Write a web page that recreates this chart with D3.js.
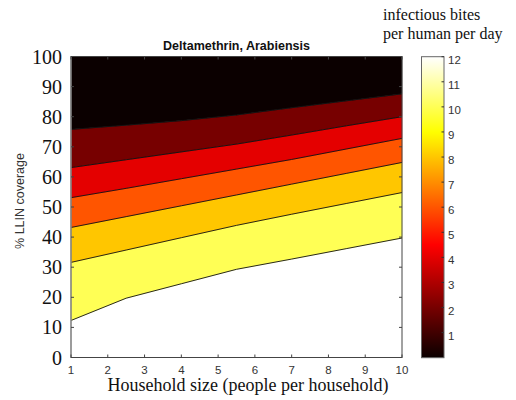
<!DOCTYPE html>
<html>
<head>
<meta charset="utf-8">
<script src="https://cdn.jsdelivr.net/npm/d3@7"></script>
<style>
  body { margin: 0; background: #fff; }
  svg { display: block; }
</style>
</head>
<body>
<svg id="chart"></svg>
<script>
/* Data: coverage (%) of each contour line at each household size */
const householdSize = [1, 2.5, 4, 5.5, 7, 8.5, 10];
const contour2  = [75.8, 77.2, 78.7, 80.6, 83.0, 85.3, 87.6];
const contour4  = [63.1, 65.7, 68.3, 70.9, 73.9, 77.0, 80.0];
const contour6  = [53.1, 56.2, 59.4, 62.6, 65.8, 69.3, 72.8];
const contour8  = [43.2, 46.8, 50.4, 54.0, 57.6, 61.2, 64.8];
const contour10 = [31.6, 35.7, 39.8, 43.9, 47.6, 51.2, 54.8];
const contour12 = [12.3, 19.7, 24.5, 29.3, 32.7, 36.2, 39.7];

const xTicks = [1, 2, 3, 4, 5, 6, 7, 8, 9, 10];
const yTicks = [0, 10, 20, 30, 40, 50, 60, 70, 80, 90, 100];
const cbTicks = [1, 2, 3, 4, 5, 6, 7, 8, 9, 10, 11, 12];

/* bands: [fill level, lower line, upper line] (null = axis edge) */
const bands = [
  { level: 12, lower: null,      upper: contour12 },
  { level: 10, lower: contour12, upper: contour10 },
  { level: 8,  lower: contour10, upper: contour8 },
  { level: 6,  lower: contour8,  upper: contour6 },
  { level: 4,  lower: contour6,  upper: contour4 },
  { level: 2,  lower: contour4,  upper: contour2 },
  { level: 0,  lower: contour2,  upper: null }
];
const lines = [contour2, contour4, contour6, contour8, contour10, contour12];

/* Chart dimensions */
const W = 516, H = 400;
const margin = { top: 56.5, left: 71 };
const width = 331, height = 301;

const svg = d3.select("#chart").attr("width", W).attr("height", H);
const g = svg.append("g").attr("transform", `translate(${margin.left},${margin.top})`);

const x = d3.scaleLinear().domain([1, 10]).range([0, width]);
const y = d3.scaleLinear().domain([0, 100]).range([height, 0]);

/* MATLAB "hot" colormap */
const hot = d3.scaleLinear()
    .domain([0, 4.5, 9, 12])
    .range(["#0b0000", "#ff0000", "#ffff00", "#ffffff"])
    .clamp(true);

/* Filled bands */
bands.forEach(b => {
  const area = d3.area()
      .x((d, i) => x(householdSize[i]))
      .y0((d, i) => y(b.lower ? b.lower[i] : 0))
      .y1((d, i) => y(b.upper ? b.upper[i] : 100));
  g.append("path")
      .attr("d", area(householdSize))
      .attr("fill", hot(b.level))
      .attr("stroke", hot(b.level))
      .attr("stroke-width", 0.5);
});

/* Contour lines */
const line = d3.line().x((d, i) => x(householdSize[i])).y(d => y(d));
lines.forEach(l => {
  g.append("path")
      .attr("d", line(l))
      .attr("fill", "none")
      .attr("stroke", "#111")
      .attr("stroke-width", 0.9);
});

/* Axes: inward ticks, box */
const tickLen = 3;
const axisColor = "#444";
g.append("rect")
    .attr("width", width).attr("height", height)
    .attr("fill", "none").attr("stroke", axisColor).attr("stroke-width", 1);
g.append("line")
    .attr("x1", 0).attr("x2", 0).attr("y1", 0).attr("y2", height)
    .attr("stroke", "#999").attr("stroke-width", 1.2);

xTicks.forEach(t => {
  g.append("line").attr("x1", x(t)).attr("x2", x(t)).attr("y1", height).attr("y2", height - tickLen)
      .attr("stroke", axisColor);
  g.append("line").attr("x1", x(t)).attr("x2", x(t)).attr("y1", 0).attr("y2", tickLen)
      .attr("stroke", axisColor);
  g.append("text")
      .attr("x", x(t)).attr("y", height + 16)
      .attr("text-anchor", "middle")
      .style("font-family", "Liberation Sans, Arial, sans-serif")
      .style("font-size", "11.5px")
      .style("fill", "#333")
      .text(t);
});

yTicks.forEach(t => {
  g.append("line").attr("x1", 0).attr("x2", tickLen).attr("y1", y(t)).attr("y2", y(t))
      .attr("stroke", axisColor);
  g.append("line").attr("x1", width).attr("x2", width - tickLen).attr("y1", y(t)).attr("y2", y(t))
      .attr("stroke", axisColor);
  g.append("text")
      .attr("x", -9).attr("y", y(t))
      .attr("dy", "0.35em")
      .attr("text-anchor", "end")
      .style("font-family", "Liberation Serif, Times New Roman, serif")
      .style("font-size", "20px")
      .style("fill", "#111")
      .text(t);
});

/* Title */
g.append("text")
    .attr("x", width / 2).attr("y", -7)
    .attr("text-anchor", "middle")
    .style("font-family", "Liberation Sans, Arial, sans-serif")
    .style("font-size", "12.5px")
    .style("font-weight", "bold")
    .style("fill", "#111")
    .text("Deltamethrin, Arabiensis");

/* Axis labels */
svg.append("text")
    .attr("x", 248).attr("y", 391)
    .attr("text-anchor", "middle")
    .style("font-family", "Liberation Serif, Times New Roman, serif")
    .style("font-size", "18px")
    .style("fill", "#111")
    .text("Household size (people per household)");

svg.append("text")
    .attr("transform", "translate(24,201) rotate(-90)")
    .attr("text-anchor", "middle")
    .style("font-family", "Liberation Sans, Arial, sans-serif")
    .style("font-size", "12.5px")
    .style("fill", "#333")
    .text("% LLIN coverage");

/* Colorbar */
const cb = { x: 421.5, y: 56.7, w: 22.5, h: 301 };
const cbScale = d3.scaleLinear().domain([0, 12]).range([cb.y + cb.h, cb.y]);

const grad = svg.append("defs").append("linearGradient")
    .attr("id", "hotGrad")
    .attr("x1", 0).attr("y1", 1).attr("x2", 0).attr("y2", 0);
d3.range(0, 12.01, 0.5).forEach(v => {
  grad.append("stop").attr("offset", v / 12).attr("stop-color", hot(v));
});

svg.append("rect")
    .attr("x", cb.x).attr("y", cb.y).attr("width", cb.w).attr("height", cb.h)
    .attr("fill", "url(#hotGrad)")
    .attr("stroke", "#666").attr("stroke-width", 1);

cbTicks.forEach(t => {
  svg.append("line")
      .attr("x1", cb.x + cb.w).attr("x2", cb.x + cb.w - 2.5)
      .attr("y1", cbScale(t)).attr("y2", cbScale(t))
      .attr("stroke", "#333");
  svg.append("text")
      .attr("x", cb.x + cb.w + 4).attr("y", cbScale(t) + 3)
      .attr("dy", "0.35em")
      .style("font-family", "Liberation Sans, Arial, sans-serif")
      .style("font-size", "11.5px")
      .style("fill", "#333")
      .text(t);
});

svg.append("text")
    .attr("x", 383).attr("y", 20)
    .style("font-family", "Liberation Serif, Times New Roman, serif")
    .style("font-size", "16px")
    .style("fill", "#111")
    .text("infectious bites");
svg.append("text")
    .attr("x", 383).attr("y", 39)
    .style("font-family", "Liberation Serif, Times New Roman, serif")
    .style("font-size", "16px")
    .style("fill", "#111")
    .text("per human per day");
</script>
</body>
</html>
